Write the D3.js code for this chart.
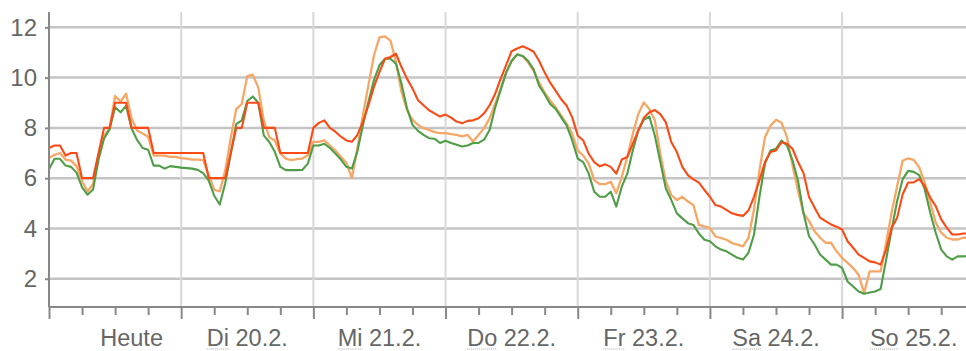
<!DOCTYPE html>
<html>
<head>
<meta charset="utf-8">
<script src="https://cdn.jsdelivr.net/npm/d3@7"></script>
<style>
  body { margin: 0; background: #fff; }
  svg text { font-family: "Liberation Sans", Arial, sans-serif; fill: #666; }
</style>
</head>
<body>
<div id="chart"></div>
<script>
// hourly values, Mo 19.2. 00:00 onwards
const startDate = new Date(2024, 1, 19, 0, 0);

const redValues = [
  7.2, 7.3, 7.3, 6.9, 7.0, 7.0, 6.0, 6.0, 6.0, 7.0, 8.0, 8.0, 9.0, 9.0, 9.0, 8.0, 8.0, 8.0, 8.0, 7.0, 7.0, 7.0, 7.0, 7.0,
  7.0, 7.0, 7.0, 7.0, 7.0, 6.0, 6.0, 6.0, 6.0, 7.0, 8.0, 8.0, 9.0, 9.0, 9.0, 8.0, 8.0, 8.0, 7.0, 7.0, 7.0, 7.0, 7.0, 7.0,
  8.0, 8.2, 8.3, 8.0, 7.85, 7.65, 7.5, 7.45, 7.72, 8.25, 8.9, 9.63, 10.22, 10.75, 10.82, 10.95, 10.42, 9.96, 9.57, 9.1, 8.9, 8.7, 8.58, 8.45,
  8.53, 8.41, 8.25, 8.18, 8.28, 8.3, 8.38, 8.58, 8.9, 9.35, 9.95, 10.5, 11.05, 11.16, 11.25, 11.15, 11.03, 10.66, 10.2, 9.8, 9.47, 9.14, 8.88, 8.42,
  7.7, 7.5, 6.97, 6.64, 6.47, 6.55, 6.45, 6.18, 6.74, 6.84, 7.37, 7.9, 8.4, 8.62, 8.71, 8.55, 8.22, 7.43, 7.04, 6.45, 6.12, 5.95, 5.82, 5.53,
  5.26, 4.93, 4.87, 4.74, 4.6, 4.54, 4.5, 4.71, 5.26, 5.92, 6.64, 7.04, 7.1, 7.43, 7.37, 7.17, 6.64, 6.2, 5.25, 4.83, 4.43, 4.29, 4.16, 4.07,
  3.96, 3.49, 3.23, 2.96, 2.83, 2.69, 2.65, 2.56, 3.16, 4.03, 4.43, 5.36, 5.83, 5.83, 5.96, 5.69, 5.23, 4.89, 4.36, 4.03, 3.76, 3.76, 3.8, 3.8
];

const orangeValues = [
  6.8, 6.93, 7.0, 6.74, 6.7, 6.48, 5.9, 5.47, 5.77, 6.93, 7.7, 7.97, 9.27, 9.05, 9.36, 8.36, 7.9, 7.78, 7.65, 6.9, 6.9, 6.9, 6.85, 6.85,
  6.8, 6.78, 6.74, 6.74, 6.72, 6.13, 5.54, 5.47, 6.3, 7.6, 8.75, 8.95, 10.06, 10.12, 9.6, 8.29, 7.63, 7.5, 6.98, 6.78, 6.72, 6.76, 6.78, 6.91,
  7.44, 7.44, 7.5, 7.3, 7.1, 6.85, 6.6, 6.0, 7.2, 8.51, 9.7, 10.88, 11.6, 11.64, 11.47, 10.62, 9.43, 8.71, 8.32, 8.12, 7.99, 7.92, 7.83, 7.79,
  7.79, 7.75, 7.72, 7.66, 7.72, 7.46, 7.72, 7.99, 8.38, 8.95, 9.55, 10.2, 10.66, 10.92, 10.86, 10.6, 10.26, 9.8, 9.4, 9.08, 8.82, 8.49, 8.16, 7.76,
  7.1, 6.9, 6.58, 5.92, 5.76, 5.76, 5.86, 5.4, 6.05, 6.84, 7.76, 8.55, 9.01, 8.75, 8.3, 6.97, 5.86, 5.33, 5.13, 5.26, 5.07, 4.93, 4.14, 4.08,
  4.01, 3.68, 3.62, 3.55, 3.42, 3.36, 3.29, 3.62, 4.74, 6.32, 7.63, 8.09, 8.32, 8.2, 7.63, 6.5, 5.5, 4.6, 4.3, 3.89, 3.63, 3.43, 3.43, 3.09,
  2.83, 2.63, 2.43, 2.16, 1.43, 2.29, 2.29, 2.29, 3.43, 4.63, 5.69, 6.69, 6.79, 6.73, 6.43, 5.83, 5.03, 4.23, 3.83, 3.63, 3.56, 3.56, 3.63, 3.63
];

const greenValues = [
  6.35, 6.77, 6.77, 6.5, 6.45, 6.22, 5.64, 5.34, 5.55, 6.74, 7.58, 7.94, 8.82, 8.62, 8.88, 7.97, 7.52, 7.2, 7.13, 6.5, 6.5, 6.38, 6.48, 6.45,
  6.42, 6.4, 6.38, 6.33, 6.2, 5.9, 5.3, 4.95, 5.8, 6.98, 8.15, 8.3, 9.07, 9.25, 9.0, 7.7, 7.44, 7.05, 6.45, 6.32, 6.32, 6.32, 6.33, 6.58,
  7.3, 7.3, 7.37, 7.2, 6.98, 6.74, 6.45, 6.38, 7.07, 8.1, 9.04, 9.9, 10.49, 10.75, 10.75, 10.55, 9.76, 8.78, 8.12, 7.88, 7.72, 7.59, 7.57, 7.4,
  7.49, 7.4, 7.33, 7.26, 7.3, 7.4, 7.4, 7.53, 7.92, 8.8, 9.5, 10.2, 10.66, 10.92, 10.86, 10.66, 10.33, 9.67, 9.34, 8.95, 8.75, 8.42, 8.09, 7.5,
  6.78, 6.64, 6.18, 5.46, 5.26, 5.26, 5.46, 4.87, 5.66, 6.18, 7.1, 7.9, 8.32, 8.45, 7.7, 6.64, 5.59, 5.13, 4.6, 4.4, 4.21, 4.14, 3.8, 3.55,
  3.49, 3.29, 3.16, 3.09, 2.96, 2.83, 2.76, 3.03, 3.75, 5.26, 6.58, 7.1, 7.17, 7.5, 7.3, 6.71, 5.9, 4.6, 3.69, 3.36, 2.96, 2.76, 2.56, 2.56,
  2.43, 1.89, 1.69, 1.49, 1.4, 1.45, 1.49, 1.59, 2.76, 3.96, 5.09, 5.96, 6.29, 6.25, 6.12, 5.56, 4.63, 3.83, 3.16, 2.89, 2.76, 2.89, 2.89, 2.9
];

const yTickValues = [2, 4, 6, 8, 10, 12];
const dayNames = ["Heute", "Di", "Mi", "Do", "Fr", "Sa", "So"];
const dayDates = ["", "20.2.", "21.2.", "22.2.", "23.2.", "24.2.", "25.2."];
const labelHours = [15, 36, 60, 84, 108, 132, 157];

// set the dimensions and margins of the graph
const width = 966;
const height = 351;
const margin = { top: 12, right: 0, bottom: 44, left: 49 };
const hour = 3600 * 1000;
const endDate = new Date(+startDate + 166.5 * hour);
const atHour = (h) => new Date(+startDate + h * hour);

const svg = d3
  .select("#chart")
  .append("svg")
  .attr("width", width)
  .attr("height", height);

const x = d3
  .scaleTime()
  .domain([startDate, endDate])
  .range([margin.left, width - margin.right]);

const y = d3
  .scaleLinear()
  .domain([0.875, 12.61])
  .range([height - margin.bottom, margin.top]);

// horizontal grid
svg
  .append("g")
  .selectAll("line")
  .data(yTickValues)
  .enter()
  .append("line")
  .attr("x1", margin.left)
  .attr("x2", width - margin.right)
  .attr("y1", (d) => y(d))
  .attr("y2", (d) => y(d))
  .attr("stroke", "#c4c4c4")
  .attr("stroke-width", 2.5);

// vertical grid at midnight
svg
  .append("g")
  .selectAll("line")
  .data(d3.timeDay.range(atHour(24), endDate))
  .enter()
  .append("line")
  .attr("x1", (d) => x(d))
  .attr("x2", (d) => x(d))
  .attr("y1", margin.top)
  .attr("y2", height - margin.bottom)
  .attr("stroke", "#d8d8d8")
  .attr("stroke-width", 2);

// lines
svg
  .append("clipPath")
  .attr("id", "plot-clip")
  .append("rect")
  .attr("x", margin.left)
  .attr("y", 0)
  .attr("width", width - margin.left - margin.right)
  .attr("height", height - margin.bottom);

const series = [
  { values: orangeValues, color: "#f6a766", width: 2.3 },
  { values: greenValues, color: "#4f9d47", width: 2.1 },
  { values: redValues, color: "#fa4a16", width: 2.1 },
];

const line = d3
  .line()
  .x((d, i) => x(atHour(i)))
  .y((d) => y(d));

svg
  .append("g")
  .attr("clip-path", "url(#plot-clip)")
  .selectAll("path")
  .data(series)
  .enter()
  .append("path")
  .attr("d", (d) => line(d.values))
  .attr("fill", "none")
  .attr("stroke", (d) => d.color)
  .attr("stroke-width", (d) => d.width)
  .attr("stroke-linejoin", "round");

// y axis
const yAxis = d3.axisLeft(y).tickValues(yTickValues).tickSize(4).tickPadding(8);
const yG = svg
  .append("g")
  .attr("transform", `translate(${margin.left},0)`)
  .call(yAxis);
yG.select(".domain").remove();
yG.selectAll(".tick line").attr("stroke", "#888").attr("stroke-width", 2);
yG.selectAll(".tick text").style("font-size", "24px").attr("fill", "#666");
yG.append("line")
  .attr("y1", margin.top)
  .attr("y2", height - margin.bottom)
  .attr("stroke", "#888")
  .attr("stroke-width", 2);

// x axis, 6-hour ticks
const xAxis = d3
  .axisBottom(x)
  .tickValues(d3.timeHour.every(6).range(startDate, endDate))
  .tickSize(8)
  .tickFormat("");
const xG = svg
  .append("g")
  .attr("transform", `translate(0,${height - margin.bottom})`)
  .call(xAxis);
xG.select(".domain").remove();
xG.selectAll(".tick line")
  .attr("stroke", "#888")
  .attr("stroke-width", 2)
  .attr("y2", (d) => (d.getHours() === 0 ? 12 : 8));
xG.append("line")
  .attr("x1", margin.left)
  .attr("x2", width - margin.right)
  .attr("stroke", "#888")
  .attr("stroke-width", 2);

// day labels
const labelY = height - margin.bottom + 39;
const labelG = svg.append("g");
const labels = labelG
  .selectAll("text")
  .data(dayNames)
  .enter()
  .append("text")
  .attr("x", (d, i) => x(atHour(labelHours[i])))
  .attr("y", labelY)
  .attr("text-anchor", "middle")
  .style("font-size", "23.5px")
  .text((d, i) => (dayDates[i] ? d + " " + dayDates[i] : d));

// dotted underline under weekday abbreviations
labels.each(function (d, i) {
  if (i === 0) return;
  const x0 = this.getStartPositionOfChar(0).x;
  const w = this.getSubStringLength(0, d.length);
  labelG
    .append("line")
    .attr("x1", x0)
    .attr("x2", x0 + w)
    .attr("y1", labelY + 3)
    .attr("y2", labelY + 3)
    .attr("stroke", "#aaa")
    .attr("stroke-width", 1)
    .attr("stroke-dasharray", "1,1");
});
</script>
</body>
</html>
